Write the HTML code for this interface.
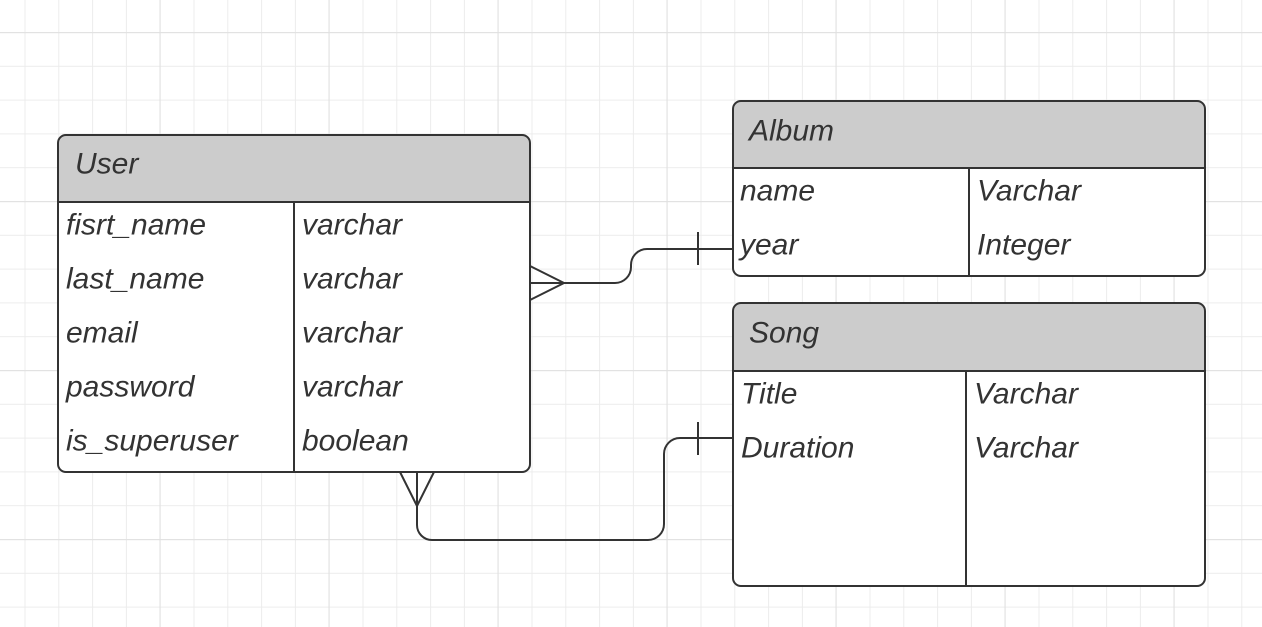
<!DOCTYPE html>
<html><head><style>
html,body{margin:0;padding:0;background:#fff;}
svg{display:block;}
text{font-family:"Liberation Sans",sans-serif;font-style:italic;font-size:30px;fill:#333;dominant-baseline:central;}
</style></head><body>
<svg width="1262" height="627" viewBox="0 0 1262 627" xmlns="http://www.w3.org/2000/svg">
<defs>
<pattern id="g" x="24.5" y="-1.8" width="33.8" height="33.8" patternUnits="userSpaceOnUse">
<path d="M0.5 0V33.8M0 0.5H33.8" stroke="#ececec" stroke-width="1" fill="none"/>
</pattern>
<pattern id="G" x="159.5" y="32.2" width="169" height="169" patternUnits="userSpaceOnUse">
<path d="M0.5 0V169M0 0.5H169" stroke="#e0e0e0" stroke-width="1" fill="none"/>
</pattern>
</defs>
<rect width="1262" height="627" fill="url(#g)"/>
<rect width="1262" height="627" fill="url(#G)"/>
<g stroke="#333" stroke-width="2" fill="none">
<path d="M58 202V143a8 8 0 0 1 8-8H522a8 8 0 0 1 8 8V202Z" fill="#ccc"/>
<path d="M58 202H530V464a8 8 0 0 1-8 8H66a8 8 0 0 1-8-8Z" fill="#fff"/>
<path d="M294 202V472"/>
<path d="M733 168V109a8 8 0 0 1 8-8H1197a8 8 0 0 1 8 8V168Z" fill="#ccc"/>
<path d="M733 168H1205V268a8 8 0 0 1-8 8H741a8 8 0 0 1-8-8Z" fill="#fff"/>
<path d="M969 168V276"/>
<path d="M733 371V311a8 8 0 0 1 8-8H1197a8 8 0 0 1 8 8V371Z" fill="#ccc"/>
<path d="M733 371H1205V578a8 8 0 0 1-8 8H741a8 8 0 0 1-8-8Z" fill="#fff"/>
<path d="M966 371V586"/>
<path d="M530 266L564 283L530 300M530 283H615a16 16 0 0 0 16-16V265a16 16 0 0 1 16-16H732"/>
<path d="M698 232V265"/>
<path d="M400 472L417 506L434 472M417 472V525a15 15 0 0 0 15 15H648a16 16 0 0 0 16-16V454a16 16 0 0 1 16-16H732"/>
<path d="M698 422V455"/>
</g>
<text x="75" y="164">User</text>
<text x="66" y="225">fisrt_name</text>
<text x="66" y="279">last_name</text>
<text x="66" y="333">email</text>
<text x="66" y="387">password</text>
<text x="66" y="441">is_superuser</text>
<text x="302" y="225">varchar</text>
<text x="302" y="279">varchar</text>
<text x="302" y="333">varchar</text>
<text x="302" y="387">varchar</text>
<text x="302" y="441">boolean</text>
<text x="749" y="131">Album</text>
<text x="740" y="191">name</text>
<text x="740" y="245">year</text>
<text x="977" y="191">Varchar</text>
<text x="977" y="245">Integer</text>
<text x="749" y="333">Song</text>
<text x="741" y="394">Title</text>
<text x="741" y="448">Duration</text>
<text x="974" y="394">Varchar</text>
<text x="974" y="448">Varchar</text>
</svg>
</body></html>
